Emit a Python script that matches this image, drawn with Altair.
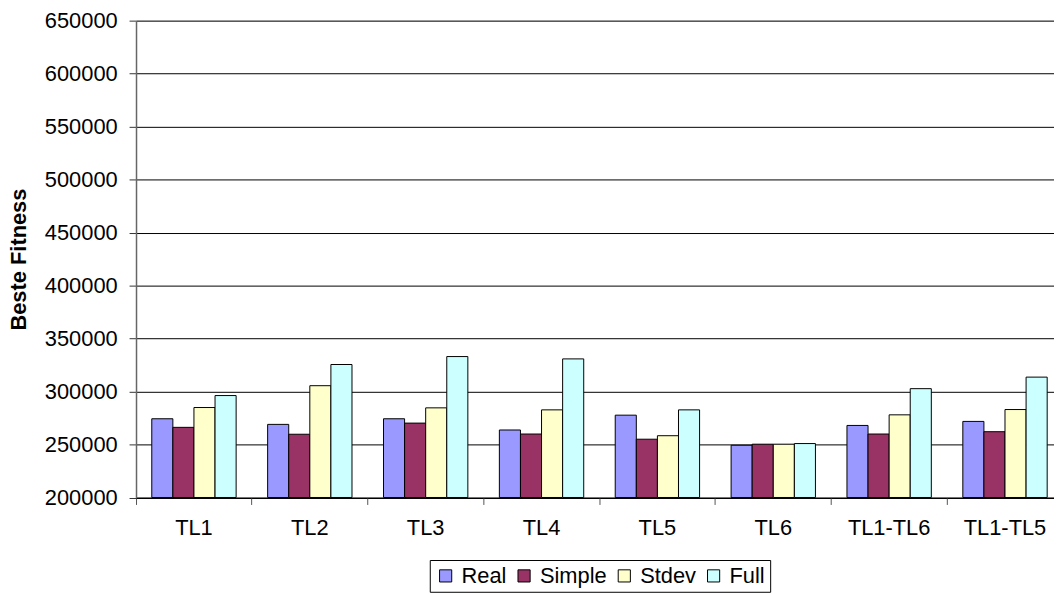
import altair as alt
import pandas as pd

categories = ["TL1", "TL2", "TL3", "TL4", "TL5", "TL6", "TL1-TL6", "TL1-TL5"]
series = ["Real", "Simple", "Stdev", "Full"]
real = [274300, 269000, 274300, 263700, 277700, 249300, 268000, 271800]
simple = [266200, 259700, 270200, 259900, 255000, 250300, 259900, 262100]
stdev = [284900, 305500, 284600, 282700, 258300, 250300, 278000, 283000]
full = [296200, 325500, 333000, 330800, 282700, 250900, 302700, 313600]
colors = ["#9999FF", "#993366", "#FFFFCC", "#CCFFFF"]
y_ticks = [200000, 250000, 300000, 350000, 400000, 450000, 500000, 550000, 600000, 650000]

rows = []
for name, vals in zip(series, [real, simple, stdev, full]):
    for c, v in zip(categories, vals):
        rows.append({"cat": c, "series": name, "value": v})
df = pd.DataFrame(rows)

FONT = "Liberation Sans"
STEP = 116.75
N = len(categories)

chart = alt.Chart(df).mark_bar(stroke="black", strokeWidth=1, opacity=1).encode(
    x=alt.X(
        "cat:N",
        sort=categories,
        scale=alt.Scale(paddingInner=0, paddingOuter=0, range=[0, STEP * N]),
        axis=alt.Axis(
            title=None,
            labelAngle=0,
            bandPosition=0,
            labelFontSize=22,
            labelFont=FONT,
            labelColor="black",
            labelPadding=13,
            tickSize=7,
            tickColor="#555555",
            domainColor="black",
            labelFlush=False,
            labelOverlap=False,
            grid=False,
        ),
    ),
    xOffset=alt.XOffset(
        "series:N",
        sort=series,
        scale=alt.Scale(domain=series, paddingInner=0, paddingOuter=0.747),
    ),
    y=alt.Y(
        "value:Q",
        scale=alt.Scale(domain=[200000, 650000], nice=False, zero=False),
        axis=alt.Axis(
            title="Beste Fitness",
            titleFont=FONT,
            titleFontSize=22,
            titleFontWeight="bold",
            titleColor="black",
            titlePadding=14,
            values=y_ticks,
            format="d",
            labelFontSize=22,
            labelFont=FONT,
            labelColor="black",
            labelPadding=12,
            tickSize=7,
            tickColor="#333333",
            domainColor="#666666",
            domainWidth=1.5,
            grid=True,
            gridColor="black",
            gridOpacity=1,
            gridWidth=1,
        ),
    ),
    y2=alt.datum(200000),
    color=alt.Color(
        "series:N",
        sort=series,
        scale=alt.Scale(domain=series, range=colors),
        legend=alt.Legend(
            title=None,
            orient="none",
            legendX=296,
            legendY=543.5,
            direction="horizontal",
            columns=4,
            strokeColor="black",
            fillColor="white",
            padding=5,
            symbolType="square",
            symbolSize=150,
            symbolStrokeColor="black",
            symbolStrokeWidth=1,
            symbolOpacity=1,
            labelFont=FONT,
            labelFontSize=22,
            labelColor="black",
            labelOffset=5,
            columnPadding=6,
        ),
    ),
).properties(
    width=925,
    height=480.5,
    autosize=alt.AutoSizeParams(type="none"),
    padding={"left": 129, "top": 10.5, "right": 0, "bottom": 95},
).configure_view(stroke=None).configure(background="white")

chart.save("out.html", embed_options={"renderer": "svg", "actions": False})
